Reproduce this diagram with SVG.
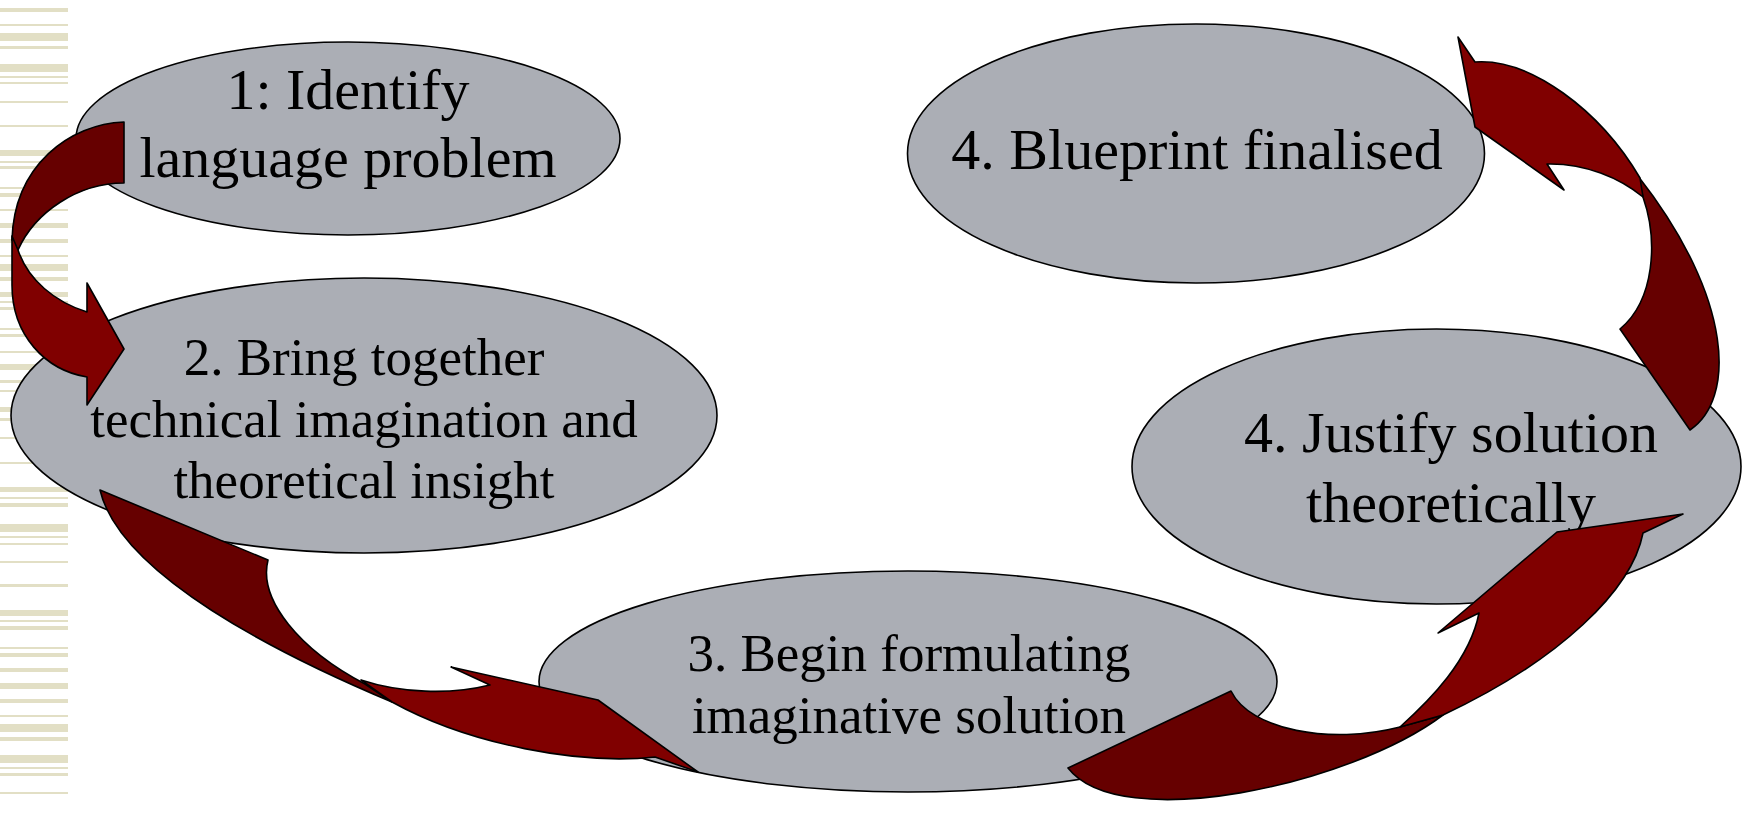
<svg xmlns="http://www.w3.org/2000/svg" width="1744" height="815" viewBox="0 0 1744 815">
<style>
.stripe{fill:#E2DFC5}
.node ellipse{fill:#ABAEB5;stroke:#000;stroke-width:1.6}
.node text{font-family:"Liberation Serif","Times New Roman",serif;fill:#000;text-anchor:middle}
.lt{fill:#800000;stroke:#000;stroke-width:1.6;stroke-linejoin:round}
.dk{fill:#660000;stroke:#000;stroke-width:1.6;stroke-linejoin:round}
</style>
<rect width="1744" height="815" fill="#fff"/>
<g id="stripes">
<rect class="stripe" x="0" y="8" width="68" height="4"/>
<rect class="stripe" x="0" y="24" width="68" height="2"/>
<rect class="stripe" x="0" y="33" width="68" height="8"/>
<rect class="stripe" x="0" y="46" width="68" height="3"/>
<rect class="stripe" x="0" y="64" width="68" height="8"/>
<rect class="stripe" x="0" y="76" width="68" height="2"/>
<rect class="stripe" x="0" y="82" width="68" height="2"/>
<rect class="stripe" x="0" y="101" width="68" height="2"/>
<rect class="stripe" x="0" y="125" width="68" height="2"/>
<rect class="stripe" x="0" y="150" width="68" height="6"/>
<rect class="stripe" x="0" y="161" width="68" height="2"/>
<rect class="stripe" x="0" y="166" width="68" height="3"/>
<rect class="stripe" x="0" y="187" width="68" height="2"/>
<rect class="stripe" x="0" y="193" width="68" height="4"/>
<rect class="stripe" x="0" y="209" width="68" height="2"/>
<rect class="stripe" x="0" y="223" width="68" height="5"/>
<rect class="stripe" x="0" y="239" width="68" height="4"/>
<rect class="stripe" x="0" y="255" width="68" height="2"/>
<rect class="stripe" x="0" y="264" width="68" height="7"/>
<rect class="stripe" x="0" y="277" width="68" height="4"/>
<rect class="stripe" x="0" y="292" width="68" height="5"/>
<rect class="stripe" x="0" y="301" width="68" height="2"/>
<rect class="stripe" x="0" y="307" width="68" height="3"/>
<rect class="stripe" x="0" y="328" width="68" height="2"/>
<rect class="stripe" x="0" y="334" width="68" height="3"/>
<rect class="stripe" x="0" y="351" width="68" height="2"/>
<rect class="stripe" x="0" y="364" width="68" height="6"/>
<rect class="stripe" x="0" y="380" width="68" height="3"/>
<rect class="stripe" x="0" y="390" width="68" height="2"/>
<rect class="stripe" x="0" y="407" width="68" height="5"/>
<rect class="stripe" x="0" y="418" width="68" height="3"/>
<rect class="stripe" x="0" y="437" width="68" height="2"/>
<rect class="stripe" x="0" y="462" width="68" height="2"/>
<rect class="stripe" x="0" y="487" width="68" height="5"/>
<rect class="stripe" x="0" y="497" width="68" height="2"/>
<rect class="stripe" x="0" y="503" width="68" height="4"/>
<rect class="stripe" x="0" y="524" width="68" height="8"/>
<rect class="stripe" x="0" y="536" width="68" height="2"/>
<rect class="stripe" x="0" y="543" width="68" height="2"/>
<rect class="stripe" x="0" y="561" width="68" height="2"/>
<rect class="stripe" x="0" y="584" width="68" height="3"/>
<rect class="stripe" x="0" y="610" width="68" height="6"/>
<rect class="stripe" x="0" y="620" width="68" height="2"/>
<rect class="stripe" x="0" y="626" width="68" height="4"/>
<rect class="stripe" x="0" y="647" width="68" height="2"/>
<rect class="stripe" x="0" y="653" width="68" height="4"/>
<rect class="stripe" x="0" y="668" width="68" height="4"/>
<rect class="stripe" x="0" y="683" width="68" height="6"/>
<rect class="stripe" x="0" y="699" width="68" height="4"/>
<rect class="stripe" x="0" y="715" width="68" height="2"/>
<rect class="stripe" x="0" y="724" width="68" height="8"/>
<rect class="stripe" x="0" y="737" width="68" height="4"/>
<rect class="stripe" x="0" y="755" width="68" height="8"/>
<rect class="stripe" x="0" y="767" width="68" height="2"/>
<rect class="stripe" x="0" y="773" width="68" height="3"/>
<rect class="stripe" x="0" y="792" width="68" height="2"/>
</g>
<g id="node1" class="node">
<ellipse cx="348" cy="138.5" rx="272" ry="96.5"/>
<text x="348" y="109" font-size="58">1: Identify</text>
<text x="348" y="177" font-size="58">language problem</text>
</g>
<g id="node2" class="node">
<ellipse cx="364" cy="415.5" rx="353" ry="137.5"/>
<text x="364" y="375" font-size="53">2. Bring together</text>
<text x="364" y="437" font-size="53">technical imagination and</text>
<text x="364" y="498" font-size="53">theoretical insight</text>
</g>
<g id="node3" class="node">
<ellipse cx="908" cy="681.5" rx="369" ry="110.5"/>
<text x="909" y="671" font-size="53">3. Begin formulating</text>
<text x="909" y="733" font-size="53">imaginative solution</text>
</g>
<g id="node4" class="node">
<ellipse cx="1196" cy="153.5" rx="288.5" ry="129.5"/>
<text x="1197" y="169" font-size="58">4. Blueprint finalised</text>
</g>
<g id="node5" class="node">
<ellipse cx="1436.5" cy="466.5" rx="304.5" ry="137.5"/>
<text x="1451" y="452" font-size="58">4. Justify solution</text>
<text x="1451" y="522" font-size="58">theoretically</text>
</g>
<g id="connectors">
<g id="arrow1">
<path class="dk" d="M124,122 C70,124 14,165 12,240 L18,250 C35,212 78,183 124,183 Z"/>
<path class="lt" d="M12,236 L12,285 C12,335 45,370 87,377 L87,405 L124,349 L87,283 L87,312 C55,302 28,280 18,250 Z"/>
</g>
<g id="arrow2">
<path class="dk" d="M100,490 L268,560 C258,600 300,650 365,684 L392,702 C280,655 120,575 100,490 Z"/>
<path class="lt" d="M361,680 C400,693 450,695 490,685 L451,667 L598,700 L698,772 L655,757 C580,765 470,745 392,702 Z"/>
</g>
<g id="arrow3">
<path class="dk" d="M1068,768 L1231,691 C1250,730 1330,745 1400,727 L1443,715 C1350,785 1120,835 1068,768 Z"/>
<path class="lt" d="M1400,727 C1430,700 1470,660 1479,613 L1438,633 L1557,532 L1683,514 L1643,533 C1632,590 1560,660 1443,715 Z"/>
</g>
<g id="arrow4">
<path class="dk" d="M1620,329 L1690,430 C1735,400 1735,300 1638,176 L1643,197 C1658,240 1655,300 1620,329 Z"/>
<path class="lt" d="M1475,62 C1530,58 1600,110 1640,178 L1643,197 C1620,178 1585,163 1547,164 L1564,190 L1475,127 L1458,37 Z"/>
</g>
</g>
</svg>
